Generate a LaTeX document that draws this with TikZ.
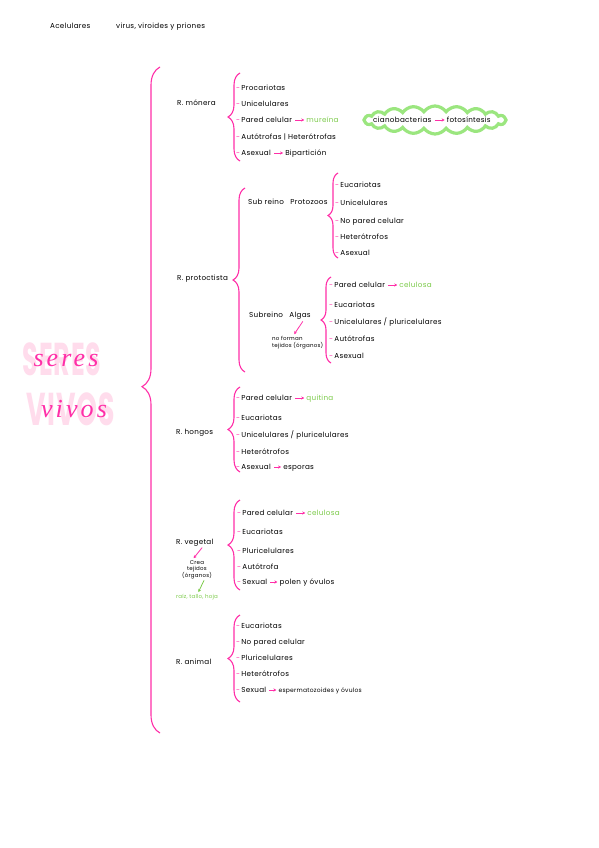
\documentclass[tikz,border=0pt]{standalone}
\usepackage{fontspec}
\setmainfont[LetterSpace=4]{Poppins}
\newfontfamily\cursiva[LetterSpace=12]{Liberation Serif}
\usepackage{xcolor}
\usepackage{tikz}
\usetikzlibrary{arrows.meta,positioning,shapes.symbols,decorations.pathreplacing}

\definecolor{rosa}{HTML}{FF2FA8}
\definecolor{rosaclaro}{HTML}{FFDCEC}
\definecolor{verde}{HTML}{7CCB4A}
\definecolor{verdenube}{HTML}{9BE67F}

\newcommand{\guion}{\textcolor{rosa}{-}\,}

\tikzset{
  texto/.style={font=\fontsize{7.2}{8.5}\selectfont, inner sep=1pt, anchor=west,
    text height=6.2pt, text depth=0.9pt},
  item/.style={texto},
  reino/.style={texto},
  nota/.style={font=\fontsize{5.5}{6.8}\selectfont, inner sep=1pt, align=center},
  verdetxt/.style={texto, text=verde},
  flecha/.style={-{Stealth[length=3pt,width=3.2pt]}, rosa, line width=0.8pt,
    shorten <=2pt, shorten >=1pt},
  flechaverde/.style={flecha, verde},
  llave/.style={rosa, line width=1.1pt, decorate, decoration={brace, amplitude=#1}},
  llave/.default=12,
  nube/.style={cloud, cloud puffs=20, cloud puff arc=110, aspect=5.5, draw=verdenube,
    line width=3.2pt, minimum width=142, minimum height=28, inner sep=0pt},
  grande/.style={font=\fontsize{46}{46}\selectfont\bfseries, text=rosaclaro, inner sep=0pt},
  cursivo/.style={font=\fontsize{26}{26}\selectfont\cursiva\itshape, text=rosa, inner sep=0pt},
}

\begin{document}
\begin{tikzpicture}[x=1pt, y=-1pt]
  \path[fill=white, use as bounding box] (0,0) rectangle (599,848);

  % cabecera
  \node[texto] (acel) at (49,26) {Acelulares};
  \node[texto] (virus) at (115,26) {virus, viroides y priones};

  % seres vivos
  \node[grande] (seres) at (62,359) {\scalebox{0.55}[1]{SERES}};
  \node[grande] (vivos) at (71,409) {\scalebox{0.58}[1]{VIVOS}};
  \node[cursivo] (seresc) at (66,360) {seres};
  \node[cursivo] (vivosc) at (74,409) {vivos};

  \draw[llave=18, decoration={aspect=0.52}] (160,733) -- (160,67);

  % R. monera
  \node[reino] (monera) at (176,103) {R. mónera};
  \draw[llave] (240,161) -- (240,73);
  \node[item] (m1) at (235,88) {\guion Procariotas};
  \node[item] (m2) at (235,104) {\guion Unicelulares};
  \node[item] (m3) at (235,120) {\guion Pared celular};
  \node[verdetxt, right=12pt of m3] (m3b) {mureína};
  \draw[flecha] (m3.east) -- (m3b.west);
  \node[item] (m4) at (235,137) {\guion Autótrofas | Heterótrofas};
  \node[item] (m5) at (235,153) {\guion Asexual};
  \node[texto, right=12pt of m5] (m5b) {Bipartición};
  \draw[flecha] (m5.east) -- (m5b.west);

  \node[nube] (nube) at (435,120) {};
  \node[texto] (ciano) at (372,120) {cianobacterias};
  \node[texto, right=13pt of ciano] (foto) {fotosíntesis};
  \draw[flecha] (ciano.east) -- (foto.west);

  % R. protoctista
  \node[reino] (proto) at (176,278) {R. protoctista};
  \draw[llave] (245,372) -- (245,188);

  \node[texto] (protoz) at (247,202) {Sub reino \; Protozoos};
  \draw[llave=10] (338,258) -- (338,173);
  \node[item] (p1) at (334,185) {\guion Eucariotas};
  \node[item] (p2) at (334,203) {\guion Unicelulares};
  \node[item] (p3) at (334,221) {\guion No pared celular};
  \node[item] (p4) at (334,237) {\guion Heterótrofos};
  \node[item] (p5) at (334,253) {\guion Asexual};

  \node[texto] (algas) at (248,315) {Subreino \; Algas};
  \node[nota, anchor=north west, align=left] (noforman) at (271,335) {no forman\\tejidos (órganos)};
  \draw[flecha] ([xshift=-8pt]algas.south east) -- ([xshift=-4pt]noforman.north);
  \draw[llave=10] (331,363) -- (331,277);
  \node[item] (a1) at (328,285) {\guion Pared celular};
  \node[verdetxt, right=12pt of a1] (a1b) {celulosa};
  \draw[flecha] (a1.east) -- (a1b.west);
  \node[item] (a2) at (328,305) {\guion Eucariotas};
  \node[item] (a3) at (328,322) {\guion Unicelulares / pluricelulares};
  \node[item] (a4) at (328,339) {\guion Autótrofas};
  \node[item] (a5) at (328,356) {\guion Asexual};

  % R. hongos
  \node[reino] (hongos) at (175,432) {R. hongos};
  \draw[llave] (240,472) -- (240,387);
  \node[item] (h1) at (235,398) {\guion Pared celular};
  \node[verdetxt, right=12pt of h1] (h1b) {quitina};
  \draw[flecha] (h1.east) -- (h1b.west);
  \node[item] (h2) at (235,418) {\guion Eucariotas};
  \node[item] (h3) at (235,435) {\guion Unicelulares / pluricelulares};
  \node[item] (h4) at (235,452) {\guion Heterótrofos};
  \node[item] (h5) at (235,467) {\guion Asexual};
  \node[texto, right=10pt of h5] (h5b) {esporas};
  \draw[flecha] (h5.east) -- (h5b.west);

  % R. vegetal
  \node[reino] (vegetal) at (175,542) {R. vegetal};
  \node[nota, anchor=north] (crea) at (197,559) {Crea\\tejidos\\(órganos)};
  \node[nota, text=verde] (raiz) at (197,597) {raíz, tallo, hoja};
  \draw[flecha, shorten <=1pt] ([xshift=8pt]vegetal.south) -- ([xshift=-4pt]crea.north);
  \draw[flechaverde, shorten <=0pt] ([xshift=7pt]crea.south) -- ([xshift=1pt]raiz.north);
  \draw[llave] (240,590) -- (240,500);
  \node[item] (v1) at (236,513) {\guion Pared celular};
  \node[verdetxt, right=12pt of v1] (v1b) {celulosa};
  \draw[flecha] (v1.east) -- (v1b.west);
  \node[item] (v2) at (236,532) {\guion Eucariotas};
  \node[item] (v3) at (236,551) {\guion Pluricelulares};
  \node[item] (v4) at (236,567) {\guion Autótrofa};
  \node[item] (v5) at (236,582) {\guion Sexual};
  \node[texto, right=10pt of v5] (v5b) {polen y óvulos};
  \draw[flecha] (v5.east) -- (v5b.west);

  % R. animal
  \node[reino] (animal) at (175,662) {R. animal};
  \draw[llave] (240,702) -- (240,615);
  \node[item] (n1) at (235,626) {\guion Eucariotas};
  \node[item] (n2) at (235,642) {\guion No pared celular};
  \node[item] (n3) at (235,658) {\guion Pluricelulares};
  \node[item] (n4) at (235,674) {\guion Heterótrofos};
  \node[item] (n5) at (235,690) {\guion Sexual};
  \node[texto, right=10pt of n5, font=\fontsize{6}{7}\selectfont] (n5b) {espermatozoides y óvulos};
  \draw[flecha] (n5.east) -- (n5b.west);
\end{tikzpicture}
\end{document}
